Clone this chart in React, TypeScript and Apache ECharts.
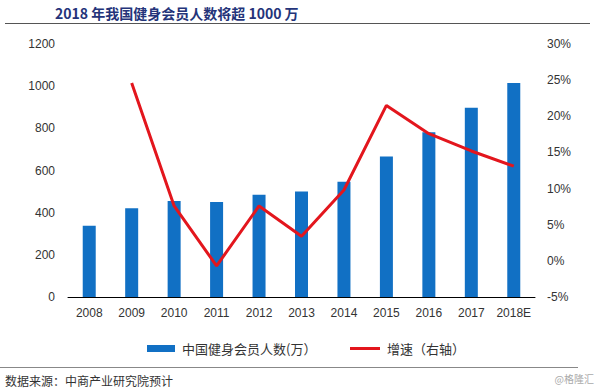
import React, { useEffect, useRef } from "react";
import * as echarts from "echarts";

const years = ["2008", "2009", "2010", "2011", "2012", "2013", "2014", "2015", "2016", "2017", "2018E"];
const members = [338, 421, 455, 451, 485, 500, 547, 666, 781, 898, 1015];
const growth: (number | null)[] = [null, 24.6, 7.6, -0.7, 7.6, 3.4, 9.8, 21.5, 17.6, 15.2, 13.1];
const leftTicks = { min: 0, max: 1200, interval: 200 };
const rightTicks = { min: -5, max: 30, interval: 5 };

const titleText = "2018 年我国健身会员人数将超 1000 万";
const barName = "中国健身会员人数(万）";
const lineName = "增速（右轴）";
const sourceText = "数据来源：中商产业研究院预计";
const watermark = "@格隆汇";

export default function App() {
  const ref = useRef<HTMLDivElement>(null);
  useEffect(() => {
    if (!ref.current) return;
    const chart = echarts.init(ref.current, undefined, { renderer: "svg" });
    const numFont = "Liberation Sans, Arial, sans-serif";
    const cjkFont = "Noto Sans CJK SC, sans-serif";
    const legendText = { fontFamily: cjkFont, fontSize: 13, color: "#333", padding: [0, 0, 0, 2] };
    chart.setOption({
      animation: false,
      backgroundColor: "#ffffff",
      grid: { left: 68, right: 65, top: 44, bottom: 94 },
      legend: [
        {
          top: 337,
          left: 142,
          itemWidth: 28,
          itemHeight: 7,
          textStyle: legendText,
          data: [{ name: barName, icon: "rect" }],
        },
        {
          top: 337,
          left: 345,
          itemWidth: 30,
          itemHeight: 3,
          textStyle: legendText,
          data: [{ name: lineName, icon: "rect" }],
        },
      ],
      xAxis: {
        type: "category",
        data: years,
        axisLine: { show: true, lineStyle: { color: "#000", width: 1 } },
        axisTick: { show: false },
        axisLabel: { interval: 0, fontFamily: numFont, fontSize: 12, color: "#333", margin: 10 },
      },
      yAxis: [
        {
          type: "value",
          ...leftTicks,
          axisLine: { show: false },
          axisTick: { show: false },
          splitLine: { show: false },
          axisLabel: {
            fontFamily: numFont,
            fontSize: 12,
            color: "#333",
            margin: 13,
            formatter: (v: number) => String(v),
          },
        },
        {
          type: "value",
          ...rightTicks,
          axisLine: { show: false },
          axisTick: { show: false },
          splitLine: { show: false },
          axisLabel: { fontFamily: numFont, fontSize: 12, color: "#333", margin: 12, formatter: "{value}%" },
        },
      ],
      series: [
        {
          name: barName,
          type: "bar",
          data: members,
          barWidth: 13,
          itemStyle: { color: "#1170c4" },
        },
        {
          name: lineName,
          type: "line",
          yAxisIndex: 1,
          data: growth,
          symbol: "none",
          lineStyle: { color: "#e3161d", width: 3 },
          itemStyle: { color: "#e3161d" },
        },
      ],
      graphic: [
        {
          type: "text",
          left: 55,
          top: 6,
          style: { text: titleText, fontFamily: cjkFont, fontSize: 14, fontWeight: "bold", fill: "#24347a" },
        },
        {
          type: "line",
          shape: { x1: 5, y1: 23.5, x2: 590, y2: 23.5 },
          style: { stroke: "#555", lineWidth: 1 },
        },
        {
          type: "line",
          shape: { x1: 0, y1: 367.5, x2: 578, y2: 367.5 },
          style: { stroke: "#888", lineWidth: 1 },
        },
        {
          type: "text",
          left: 5,
          top: 374,
          style: { text: sourceText, fontFamily: cjkFont, fontSize: 12, fill: "#333" },
        },
        {
          type: "text",
          right: 6,
          top: 373,
          style: { text: watermark, fontFamily: cjkFont, fontSize: 10, fill: "#aaa" },
        },
      ],
    });
    return () => chart.dispose();
  }, []);
  return (
    <div
      ref={ref}
      style={{ position: "fixed", left: 0, top: 0, width: 600, height: 391, background: "#fff" }}
    />
  );
}
